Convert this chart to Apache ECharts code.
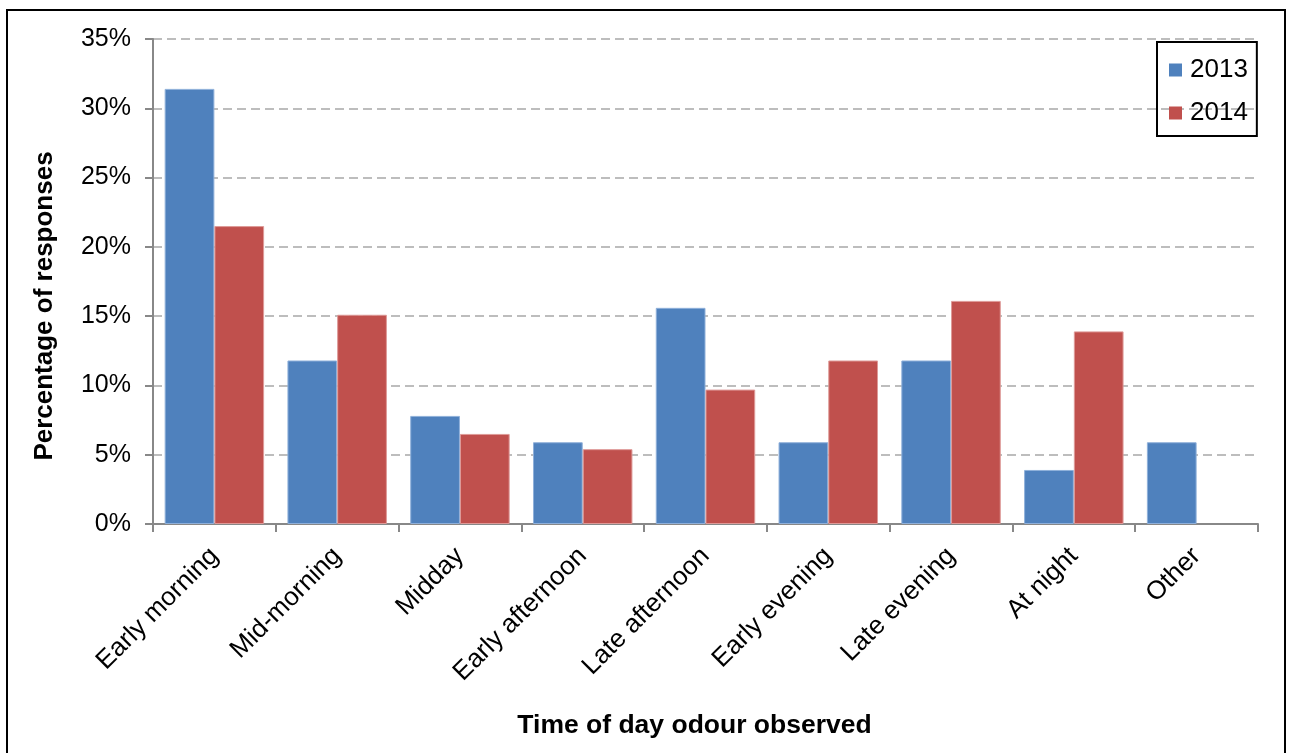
<!DOCTYPE html>
<html>
<head>
<meta charset="utf-8">
<script src="https://cdn.jsdelivr.net/npm/echarts@6/dist/echarts.min.js"></script>
<style>
html,body{margin:0;padding:0;background:#fff;}
#c{width:1292px;height:753px;}
</style>
</head>
<body>
<div id="c"></div>
<script>
const categories = ["Early morning","Mid-morning","Midday","Early afternoon","Late afternoon","Early evening","Late evening","At night","Other"];
const series2013 = [31.4, 11.8, 7.8, 5.9, 15.6, 5.9, 11.8, 3.9, 5.9];
const series2014 = [21.5, 15.1, 6.5, 5.4, 9.7, 11.8, 16.1, 13.9, 0];
const seriesNames = ["2013","2014"];
const yTicks = {min:0, max:35, interval:5};
const xTitle = 'Time of day odour observed';
const yTitle = 'Percentage of responses';

const FONT = '"Liberation Sans", Arial, sans-serif';
function withBorder(arr, color){
  return arr.map(v => ({value:v, itemStyle:{borderWidth: v > 0 ? 1 : 0, borderColor:color}}));
}
const chart = echarts.init(document.getElementById('c'), null, {renderer:'canvas'});
chart.setOption({
  animation:false,
  backgroundColor:'#fff',
  textStyle:{fontFamily:FONT},
  graphic:[
    {type:'rect', z:-1, shape:{x:7,y:10,width:1278,height:770}, style:{fill:'none', stroke:'#000', lineWidth:2}},
    {type:'text', x:45, y:306, rotation:Math.PI/2,
     style:{text:yTitle, font:'bold 26px "Liberation Sans", Arial, sans-serif', fill:'#000', textAlign:'center', textVerticalAlign:'middle'}}
  ],
  grid:{left:153, right:34, top:39, bottom:229, containLabel:false},
  legend:{
    orient:'vertical', left:1157, top:42, width:101, height:91,
    data:seriesNames,
    icon:'rect', itemWidth:13, itemHeight:13, itemGap:17,
    padding:[15,9,10,12],
    borderColor:'#000', borderWidth:2,
    itemStyle:{borderWidth:0},
    textStyle:{fontFamily:FONT, fontSize:26, color:'#000', padding:[0,0,0,3]}
  },
  xAxis:{
    type:'category', data:categories,
    name:xTitle, nameLocation:'middle', nameGap:188,
    nameTextStyle:{fontFamily:FONT, fontSize:26.5, fontWeight:'bold', color:'#000', padding:[0,22,0,0]},
    axisLine:{lineStyle:{color:'#888', width:2}},
    axisTick:{show:true, length:8, lineStyle:{color:'#888', width:2}, alignWithLabel:false},
    axisLabel:{rotate:45, fontFamily:FONT, fontSize:26, color:'#000', margin:28, interval:0}
  },
  yAxis:{
    type:'value', min:yTicks.min, max:yTicks.max, interval:yTicks.interval,
    axisLine:{show:true, lineStyle:{color:'#888', width:2}},
    axisTick:{show:true, inside:false, length:8, lineStyle:{color:'#888', width:2}},
    axisLabel:{formatter:'{value}%', fontFamily:FONT, fontSize:25, color:'#000', margin:22, padding:[8,0,0,0]},
    splitLine:{show:true, lineStyle:{color:'#bdbdbd', width:2, type:[9,5]}}
  },
  series:[
    {name:seriesNames[0], type:'bar', data:withBorder(series2013,'#8FB0DA'), barGap:'0%', barCategoryGap:'19%',
     itemStyle:{color:'#4F81BD'}},
    {name:seriesNames[1], type:'bar', data:withBorder(series2014,'#DE9A98'), barGap:'0%', barCategoryGap:'19%',
     itemStyle:{color:'#C0504D'}}
  ]
});
</script>
</body>
</html>
